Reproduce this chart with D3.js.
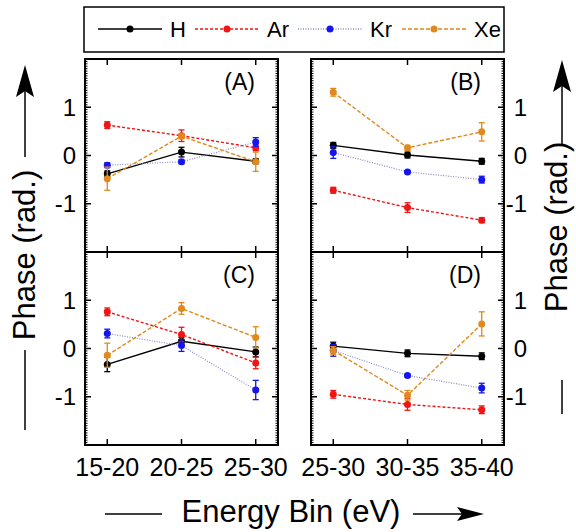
<!DOCTYPE html>
<html>
<head>
<meta charset="utf-8">
<script src="https://cdn.jsdelivr.net/npm/d3@7"></script>
<style>
  body { margin: 0; background: #fff; }
  svg { font-family: "Liberation Sans", Arial, sans-serif; }
</style>
</head>
<body>
<script>
// data
var seriesNames = ["H", "Ar", "Kr", "Xe"];
var binsLeft = ["15-20", "20-25", "25-30"];
var binsRight = ["25-30", "30-35", "35-40"];
var yTicks = [-1, 0, 1];

// rows: H, Ar, Kr, Xe
var valuesA = [[-0.38, 0.07, -0.12], [0.63, 0.41, 0.16], [-0.2, -0.13, 0.28], [-0.48, 0.4, -0.13]];
var errorsA = [[0.06, 0.1, 0.05], [0.07, 0.12, 0.06], [0.05, 0.04, 0.09], [0.24, 0.05, 0.2]];
var valuesB = [[0.21, 0.01, -0.12], [-0.72, -1.08, -1.34], [0.06, -0.34, -0.5], [1.31, 0.16, 0.49]];
var errorsB = [[0.06, 0.06, 0.06], [0.06, 0.1, 0.05], [0.12, 0.03, 0.07], [0.08, 0.05, 0.19]];
var valuesC = [[-0.33, 0.15, -0.07], [0.76, 0.29, -0.3], [0.31, 0.06, -0.86], [-0.14, 0.83, 0.23]];
var errorsC = [[0.15, 0.08, 0.1], [0.08, 0.15, 0.12], [0.09, 0.12, 0.2], [0.25, 0.12, 0.22]];
var valuesD = [[0.05, -0.1, -0.16], [-0.95, -1.16, -1.27], [-0.04, -0.56, -0.82], [-0.04, -0.97, 0.51]];
var errorsD = [[0.08, 0.07, 0.07], [0.08, 0.12, 0.08], [0.12, 0.03, 0.1], [0.08, 0.1, 0.25]];

var markColors = ["#000000", "#f01414", "#1414f0", "#e0891c"];
var lineColors = ["#000000", "#f01414", "#8c8cc8", "#e0891c"];
var dashes = [null, "3,2", "1,1.5", "4,2"];

var width = 576, height = 532;
var svg = d3.select("body").append("svg")
    .attr("width", width)
    .attr("height", height);

var panels = [
    {name: "(A)", cats: binsLeft, vals: valuesA, errs: errorsA, x: 85, y: 59, side: "left"},
    {name: "(B)", cats: binsRight, vals: valuesB, errs: errorsB, x: 311, y: 59, side: "right"},
    {name: "(C)", cats: binsLeft, vals: valuesC, errs: errorsC, x: 85, y: 252, side: "left"},
    {name: "(D)", cats: binsRight, vals: valuesD, errs: errorsD, x: 311, y: 252, side: "right"}
];
var pw = 193, ph = 193;

panels.forEach(function(p, pi) {
    var g = svg.append("g").attr("transform", "translate(" + p.x + "," + p.y + ")");
    var x = d3.scalePoint().domain(p.cats).range([0, pw]).padding(0.3);
    var y = d3.scaleLinear().domain([-2, 2]).range([ph, 0]);

    // minor ticks both sides
    var minor = d3.range(-40, 41).map(function(d) { return d / 20; });
    [0, pw].forEach(function(ex, k) {
        var dir = k == 0 ? 1 : -1;
        g.selectAll(null).data(minor).enter().append("line")
            .attr("x1", ex).attr("x2", ex + dir * 2.5)
            .attr("y1", function(d) { return y(d); })
            .attr("y2", function(d) { return y(d); })
            .attr("stroke", "#000").attr("stroke-width", 1);
        g.selectAll(null).data(yTicks).enter().append("line")
            .attr("x1", ex).attr("x2", ex + dir * 6)
            .attr("y1", function(d) { return y(d); })
            .attr("y2", function(d) { return y(d); })
            .attr("stroke", "#000").attr("stroke-width", 1.5);
    });
    // x ticks top and bottom
    [0, ph].forEach(function(ey, k) {
        var dir = k == 0 ? 1 : -1;
        g.selectAll(null).data(p.cats).enter().append("line")
            .attr("x1", function(d) { return x(d); })
            .attr("x2", function(d) { return x(d); })
            .attr("y1", ey).attr("y2", ey + dir * 6)
            .attr("stroke", "#000").attr("stroke-width", 1.5);
    });

    g.append("rect").attr("width", pw).attr("height", ph)
        .attr("fill", "none").attr("stroke", "#000").attr("stroke-width", 2);

    // y tick labels
    g.selectAll(null).data(yTicks).enter().append("text")
        .attr("x", p.side == "left" ? -9 : pw + 23)
        .attr("y", function(d) { return y(d) + 8.5; })
        .attr("text-anchor", "end")
        .attr("font-size", 24)
        .text(function(d) { return d; });

    // x tick labels below bottom panels
    if (pi >= 2) {
        g.selectAll(null).data(p.cats).enter().append("text")
            .attr("x", function(d) { return x(d); })
            .attr("y", ph + 31)
            .attr("text-anchor", "middle")
            .attr("font-size", 25)
            .text(function(d) { return d; });
    }

    g.append("text").attr("x", pw - 23).attr("y", 31)
        .attr("text-anchor", "end").attr("font-size", 23)
        .text(p.name);

    // series
    seriesNames.forEach(function(s, si) {
        var pts = p.vals[si].map(function(v, i) { return {c: p.cats[i], v: v, e: p.errs[si][i]}; });
        var line = d3.line().x(function(d) { return x(d.c); }).y(function(d) { return y(d.v); });
        g.append("path").datum(pts).attr("d", line)
            .attr("fill", "none")
            .attr("stroke", lineColors[si])
            .attr("stroke-width", si == 2 ? 1.2 : 1.4)
            .attr("stroke-dasharray", dashes[si]);
        var eb = g.append("g").attr("stroke", markColors[si]).attr("stroke-width", 1.3);
        eb.selectAll(null).data(pts).enter().append("line")
            .attr("x1", function(d) { return x(d.c); })
            .attr("x2", function(d) { return x(d.c); })
            .attr("y1", function(d) { return y(d.v - d.e); })
            .attr("y2", function(d) { return y(d.v + d.e); });
        [-1, 1].forEach(function(sg) {
            eb.selectAll(null).data(pts).enter().append("line")
                .attr("x1", function(d) { return x(d.c) - 3; })
                .attr("x2", function(d) { return x(d.c) + 3; })
                .attr("y1", function(d) { return y(d.v + sg * d.e); })
                .attr("y2", function(d) { return y(d.v + sg * d.e); });
        });
        g.selectAll(null).data(pts).enter().append("circle")
            .attr("cx", function(d) { return x(d.c); })
            .attr("cy", function(d) { return y(d.v); })
            .attr("r", 3.5)
            .attr("fill", markColors[si]);
    });
});

// legend
var lg = svg.append("g");
lg.append("rect").attr("x", 84).attr("y", 7).attr("width", 420).attr("height", 45)
    .attr("fill", "#fff").attr("stroke", "#000").attr("stroke-width", 1.5);
var legX = [98, 195, 298, 402];
seriesNames.forEach(function(s, si) {
    var x0 = legX[si];
    lg.append("line").attr("x1", x0).attr("x2", x0 + 64).attr("y1", 29).attr("y2", 29)
        .attr("stroke", lineColors[si]).attr("stroke-width", 1.4)
        .attr("stroke-dasharray", dashes[si]);
    lg.append("circle").attr("cx", x0 + 32).attr("cy", 29).attr("r", 3.5).attr("fill", markColors[si]);
    lg.append("text").attr("x", x0 + 72).attr("y", 37).attr("font-size", 22).text(s);
});

// arrow head helper
function head(tx, ty, angle) {
    svg.append("path")
        .attr("d", "M0,0 L-9,-32 L0,-26 L9,-32 Z")
        .attr("transform", "translate(" + tx + "," + ty + ") rotate(" + angle + ")")
        .attr("fill", "#000");
}

// left y title
svg.append("text")
    .attr("transform", "translate(35,255) rotate(-90)")
    .attr("text-anchor", "middle").attr("font-size", 31)
    .text("Phase (rad.)");
svg.append("line").attr("x1", 25).attr("x2", 25).attr("y1", 157).attr("y2", 75).attr("stroke", "#000").attr("stroke-width", 1.5);
head(25, 65, 180);
svg.append("line").attr("x1", 25).attr("x2", 25).attr("y1", 350).attr("y2", 430).attr("stroke", "#000").attr("stroke-width", 1.5);

// right y title
svg.append("text")
    .attr("transform", "translate(567,227) rotate(-90)")
    .attr("text-anchor", "middle").attr("font-size", 31)
    .text("Phase (rad.)");
svg.append("line").attr("x1", 562).attr("x2", 562).attr("y1", 145).attr("y2", 70).attr("stroke", "#000").attr("stroke-width", 1.5);
head(562, 60, 180);
svg.append("line").attr("x1", 562).attr("x2", 562).attr("y1", 380).attr("y2", 414).attr("stroke", "#000").attr("stroke-width", 1.5);

// x title
svg.append("text").attr("x", 291).attr("y", 522)
    .attr("text-anchor", "middle").attr("font-size", 31)
    .text("Energy Bin (eV)");
svg.append("line").attr("x1", 105).attr("x2", 162).attr("y1", 514).attr("y2", 514).attr("stroke", "#000").attr("stroke-width", 1.5);
svg.append("line").attr("x1", 413).attr("x2", 475).attr("y1", 514).attr("y2", 514).attr("stroke", "#000").attr("stroke-width", 1.5);
svg.append("path")
    .attr("d", "M0,0 L-7,-27 L0,-22 L7,-27 Z")
    .attr("transform", "translate(484,514) rotate(-90)")
    .attr("fill", "#000");
</script>
</body>
</html>
